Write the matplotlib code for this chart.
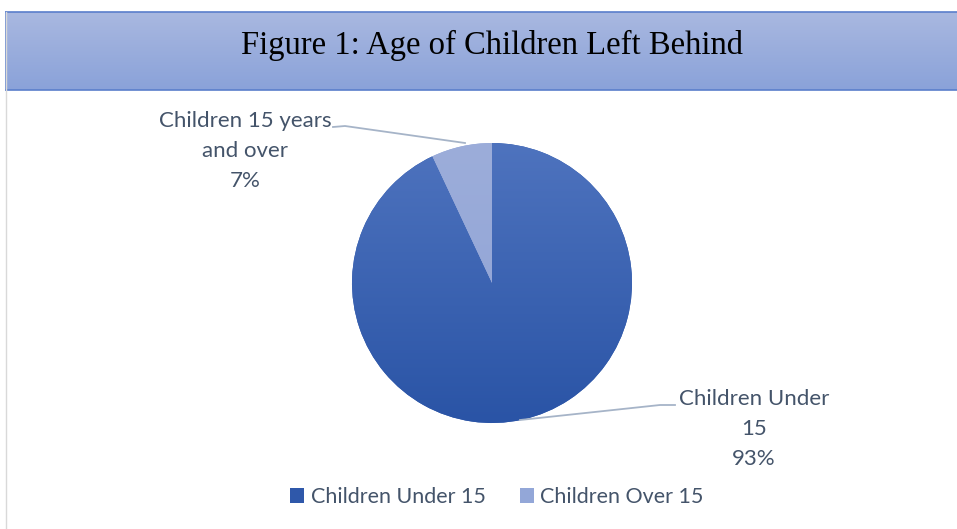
import matplotlib
matplotlib.use("Agg")
import matplotlib.pyplot as plt
import numpy as np
from matplotlib.lines import Line2D
from matplotlib.patches import Patch

# data
categories = ["Children Under 15", "Children Over 15"]
values = [93, 7]
slice_labels = ["Children Under\n15\n93%", "Children 15 years\nand over\n7%"]
colors_top = ["#4e73be", "#9cadda"]
colors_bottom = ["#2a54a6", "#8ea2d5"]
legend_colors = ["#2f58aa", "#93a7d8"]

W, H = 957, 529
fig = plt.figure(figsize=(W / 100, H / 100), dpi=100)
plt.rcParams['font.family'] = ['Lato', 'DejaVu Sans']
text_color = "#44546a"

# outer chart frame (left edge)
fig.add_artist(Line2D([6 / W, 6 / W], [0, 1 - 12 / H], color="#d9d9d9", lw=1))

# title band with vertical gradient (runs off the right edge)
tax = fig.add_axes([6 / W, 1 - 90 / H, 1.05, 78 / H])
grad = np.linspace(0, 1, 100).reshape(-1, 1)
c1 = np.array([0xa9, 0xb8, 0xe0]) / 255
c2 = np.array([0x8a, 0xa2, 0xd9]) / 255
img = c1[None, None, :] * (1 - grad[:, :, None]) + c2[None, None, :] * grad[:, :, None]
tax.imshow(img, aspect="auto", extent=[0, 1, 0, 1])
tax.set_xticks([])
tax.set_yticks([])
for s in tax.spines.values():
    s.set_color("#5a7ecb")
    s.set_linewidth(1.2)
fig.text(492 / W, 1 - 45 / H, "Figure 1: Age of Children Left Behind", ha="center", va="center",
         fontsize=23.5, family="Liberation Serif", color="black")

# pie
cx, cy, r = 492, 283, 140
ax = fig.add_axes([(cx - r) / W, 1 - (cy + r) / H, 2 * r / W, 2 * r / H])
wedges, _ = ax.pie(values, startangle=90, counterclock=False, radius=1,
                   colors=legend_colors, wedgeprops=dict(linewidth=0))
ax.set_aspect("equal")
ax.axis("off")

for w, ct, cb in zip(wedges, colors_top, colors_bottom):
    ct = np.array(matplotlib.colors.to_rgb(ct))
    cb = np.array(matplotlib.colors.to_rgb(cb))
    g = ct[None, None, :] * (1 - grad[:, :, None]) + cb[None, None, :] * grad[:, :, None]
    im = ax.imshow(g, extent=[-1, 1, -1, 1], aspect="auto", zorder=2)
    im.set_clip_path(w)
ax.set_xlim(-1, 1)
ax.set_ylim(-1, 1)


def px(x, y):
    return (x - cx) / r, (cy - y) / r


# data labels with leader lines
lab_pos = [(754, 429), (245, 151)]
leaders = [[(520, 420), (660, 405), (675, 405)], [(465, 143), (345, 126), (333, 127)]]
for lab, (lx, ly), pts in zip(slice_labels, lab_pos, leaders):
    xs, ys = zip(*[px(*p) for p in pts])
    ax.plot(xs, ys, color="#a6b4c8", lw=1.3, clip_on=False, zorder=3)
    tx, ty = px(lx, ly)
    ax.text(tx, ty, lab, ha="center", va="center", fontsize=16, color=text_color,
            linespacing=1.62, clip_on=False)

# legend
handles = [Patch(facecolor=c, edgecolor="none") for c in legend_colors]
fig.legend(handles, categories, loc="center", bbox_to_anchor=(497 / W, 1 - 497 / H),
           ncol=2, frameon=False, fontsize=15.5, labelcolor=text_color,
           handlelength=0.65, handleheight=0.65, handletextpad=0.3, columnspacing=1.6)

fig.savefig("out.png", dpi=100)
